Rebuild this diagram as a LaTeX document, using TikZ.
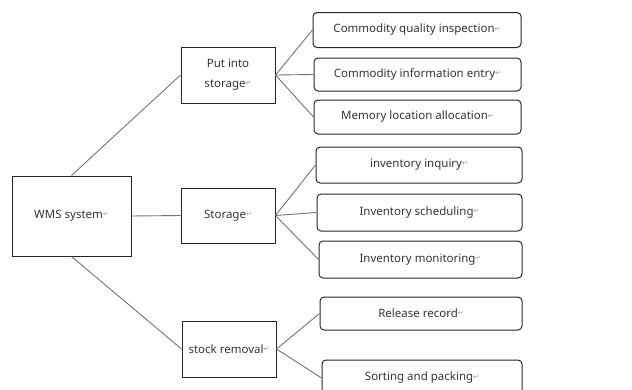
\documentclass[tikz,border=0pt]{standalone}
\usepackage{fontspec}
\setmainfont{Noto Sans}
\newfontfamily\symfont{DejaVu Sans}
\newcommand\retmark{{\symfont\color{gray!80}\fontsize{7}{7}\selectfont\raisebox{0.5ex}{↵}}}
\begin{document}
\begin{tikzpicture}[x=1pt,y=-1pt,
  sqbox/.style={draw=black!85,line width=1pt,inner sep=0pt,align=center,font=\fontsize{11.5}{20}\selectfont,text=black!80},
  rbox/.style={draw=black!85,line width=1pt,rounded corners=4pt,inner sep=0pt,font=\fontsize{11.5}{14}\selectfont,text=black!80},
  link/.style={draw=black!55,line width=0.9pt}]
\useasboundingbox (0,0) rectangle (632,389);
\node[sqbox,minimum width=119pt,minimum height=80pt] (wms) at (71.5,216) {WMS system\retmark};
\node[sqbox,minimum width=94pt,minimum height=56pt] (put) at (228,75) {Put into\\storage\retmark};
\node[sqbox,minimum width=94pt,minimum height=55pt] (sto) at (228,215.5) {Storage\retmark};
\node[sqbox,minimum width=94pt,minimum height=56pt] (out) at (229,349) {stock removal\retmark};
\node[rbox,minimum width=208pt,minimum height=35pt] (r1) at (417,30) {Commodity quality inspection\retmark};
\node[rbox,minimum width=207pt,minimum height=33pt] (r2) at (417.5,74.5) {Commodity information entry\retmark};
\node[rbox,minimum width=207pt,minimum height=34pt] (r3) at (417.5,117) {Memory location allocation\retmark};
\node[rbox,minimum width=206pt,minimum height=36pt] (r4) at (419,165) {inventory inquiry\retmark};
\node[rbox,minimum width=205pt,minimum height=37pt] (r5) at (419.5,212.5) {Inventory scheduling\retmark};
\node[rbox,minimum width=203pt,minimum height=37pt] (r6) at (420.5,259.5) {Inventory monitoring\retmark};
\node[rbox,minimum width=202pt,minimum height=33pt] (r7) at (421,313.5) {Release record\retmark};
\node[rbox,minimum width=200pt,minimum height=36pt] (r8) at (422,378) {Sorting and packing\retmark};
\draw[link] (wms.north) -- (put.west);
\draw[link] (wms.east) -- (sto.west);
\draw[link] (wms.south) -- (out.west);
\draw[link] (put.east) -- (r1.west);
\draw[link] (put.east) -- (r2.west);
\draw[link] (put.east) -- (r3.west);
\draw[link] (sto.east) -- (r4.west);
\draw[link] (sto.east) -- (r5.west);
\draw[link] (sto.east) -- (r6.west);
\draw[link] (out.east) -- (r7.west);
\draw[link] (out.east) -- (r8.west);
\end{tikzpicture}
\end{document}
